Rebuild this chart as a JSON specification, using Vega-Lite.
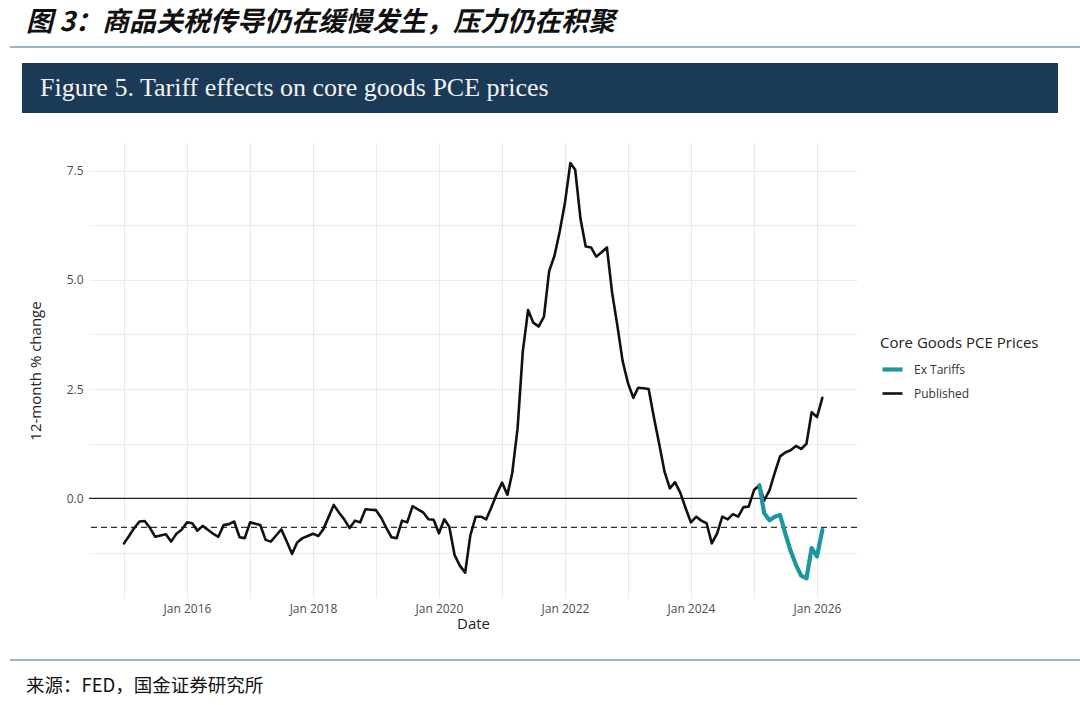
{
  "$schema": "https://vega.github.io/schema/vega-lite/v6.json",
  "background": "white",
  "padding": {"left": 10, "top": 9, "right": 0, "bottom": 0},
  "config": {
    "view": {"stroke": null},
    "font": "Open Sans"
  },
  "resolve": {"legend": {"color": "independent", "strokeWidth": "independent"}},
  "spacing": 30,
  "vconcat": [
    {
      "spacing": 15,
      "vconcat": [
        {
          "width": 1070,
          "height": 2,
          "view": {"fill": "#9db2c3", "stroke": null},
          "title": {"text": "图 3：商品关税传导仍在缓慢发生，压力仍在积聚", "anchor": "start", "font": "Noto Sans CJK SC", "fontSize": 27, "fontWeight": "bold", "fontStyle": "italic", "color": "#111111", "offset": 9, "dx": 16},
          "data": {"values": [{}]},
          "mark": {"type": "point", "opacity": 0, "size": 0},
          "encoding": {}
        },
        {
          "spacing": 11,
          "hconcat": [
            {
              "width": 1,
              "height": 1,
              "data": {"values": [{}]},
              "mark": {"type": "point", "opacity": 0, "size": 0},
              "encoding": {}
            },
            {
              "width": 1036,
              "height": 50,
              "view": {"fill": "#1b3a57", "stroke": null},
              "title": {"text": "Figure 5. Tariff effects on core goods PCE prices", "anchor": "start", "font": "Liberation Serif", "fontSize": 26, "fontWeight": "normal", "color": "#f2f2f2", "offset": -38, "dx": 18},
              "data": {"values": [{}]},
              "mark": {"type": "point", "opacity": 0, "size": 0},
              "encoding": {}
            }
          ]
        }
      ]
    },
    {
      "spacing": 28,
      "resolve": {"legend": {"color": "independent", "strokeWidth": "independent"}},
      "vconcat": [
        {
          "spacing": 17,
          "resolve": {"legend": {"color": "independent", "strokeWidth": "independent"}},
          "hconcat": [
            {
              "width": 1,
              "height": 1,
              "data": {"values": [{}]},
              "mark": {"type": "point", "opacity": 0, "size": 0},
              "encoding": {}
            },
            {
              "width": 768,
              "height": 455,
              "encoding": {
                "y": {
                  "field": "value",
                  "type": "quantitative",
                  "scale": {"domain": [-2.28, 8.13], "nice": false, "zero": false},
                  "axis": {
                    "title": "12-month % change",
                    "titleFontSize": 15,
                    "titleColor": "#222222",
                    "titleFontWeight": "normal",
                    "titlePadding": 23,
                    "values": [-1.25, 0, 1.25, 2.5, 3.75, 5, 6.25, 7.5],
                    "format": ".1f",
                    "labelExpr": "datum.value % 2.5 == 0 ? datum.label : ''",
                    "labelFontSize": 12,
                    "labelColor": "#4d4d4d",
                    "labelPadding": 6,
                    "ticks": false,
                    "domain": false,
                    "grid": true,
                    "gridColor": "#ebebeb",
                    "gridWidth": 1.1
                  }
                }
              },
              "layer": [
                {
                  "data": {"values": [{"value": 0}]},
                  "mark": {"type": "rule", "color": "#222222", "strokeWidth": 1.4}
                },
                {
                  "data": {"values": [{"value": -0.665}]},
                  "mark": {"type": "rule", "color": "#333333", "strokeWidth": 1.4, "strokeDash": [6, 4]}
                },
                {
                  "data": {"values": [
                    {"date": "2015-01-01", "value": -1.03, "series": "Published"},
                    {"date": "2015-02-01", "value": -0.85, "series": "Published"},
                    {"date": "2015-03-01", "value": -0.68, "series": "Published"},
                    {"date": "2015-04-01", "value": -0.53, "series": "Published"},
                    {"date": "2015-05-01", "value": -0.52, "series": "Published"},
                    {"date": "2015-06-01", "value": -0.68, "series": "Published"},
                    {"date": "2015-07-01", "value": -0.88, "series": "Published"},
                    {"date": "2015-08-01", "value": -0.85, "series": "Published"},
                    {"date": "2015-09-01", "value": -0.82, "series": "Published"},
                    {"date": "2015-10-01", "value": -0.99, "series": "Published"},
                    {"date": "2015-11-01", "value": -0.81, "series": "Published"},
                    {"date": "2015-12-01", "value": -0.72, "series": "Published"},
                    {"date": "2016-01-01", "value": -0.55, "series": "Published"},
                    {"date": "2016-02-01", "value": -0.57, "series": "Published"},
                    {"date": "2016-03-01", "value": -0.74, "series": "Published"},
                    {"date": "2016-04-01", "value": -0.63, "series": "Published"},
                    {"date": "2016-05-01", "value": -0.72, "series": "Published"},
                    {"date": "2016-06-01", "value": -0.81, "series": "Published"},
                    {"date": "2016-07-01", "value": -0.88, "series": "Published"},
                    {"date": "2016-08-01", "value": -0.61, "series": "Published"},
                    {"date": "2016-09-01", "value": -0.59, "series": "Published"},
                    {"date": "2016-10-01", "value": -0.53, "series": "Published"},
                    {"date": "2016-11-01", "value": -0.89, "series": "Published"},
                    {"date": "2016-12-01", "value": -0.91, "series": "Published"},
                    {"date": "2017-01-01", "value": -0.55, "series": "Published"},
                    {"date": "2017-02-01", "value": -0.58, "series": "Published"},
                    {"date": "2017-03-01", "value": -0.61, "series": "Published"},
                    {"date": "2017-04-01", "value": -0.95, "series": "Published"},
                    {"date": "2017-05-01", "value": -0.99, "series": "Published"},
                    {"date": "2017-06-01", "value": -0.85, "series": "Published"},
                    {"date": "2017-07-01", "value": -0.71, "series": "Published"},
                    {"date": "2017-08-01", "value": -0.98, "series": "Published"},
                    {"date": "2017-09-01", "value": -1.27, "series": "Published"},
                    {"date": "2017-10-01", "value": -1.01, "series": "Published"},
                    {"date": "2017-11-01", "value": -0.91, "series": "Published"},
                    {"date": "2017-12-01", "value": -0.86, "series": "Published"},
                    {"date": "2018-01-01", "value": -0.81, "series": "Published"},
                    {"date": "2018-02-01", "value": -0.86, "series": "Published"},
                    {"date": "2018-03-01", "value": -0.71, "series": "Published"},
                    {"date": "2018-04-01", "value": -0.43, "series": "Published"},
                    {"date": "2018-05-01", "value": -0.15, "series": "Published"},
                    {"date": "2018-06-01", "value": -0.33, "series": "Published"},
                    {"date": "2018-07-01", "value": -0.48, "series": "Published"},
                    {"date": "2018-08-01", "value": -0.68, "series": "Published"},
                    {"date": "2018-09-01", "value": -0.51, "series": "Published"},
                    {"date": "2018-10-01", "value": -0.55, "series": "Published"},
                    {"date": "2018-11-01", "value": -0.25, "series": "Published"},
                    {"date": "2018-12-01", "value": -0.26, "series": "Published"},
                    {"date": "2019-01-01", "value": -0.27, "series": "Published"},
                    {"date": "2019-02-01", "value": -0.45, "series": "Published"},
                    {"date": "2019-03-01", "value": -0.67, "series": "Published"},
                    {"date": "2019-04-01", "value": -0.89, "series": "Published"},
                    {"date": "2019-05-01", "value": -0.91, "series": "Published"},
                    {"date": "2019-06-01", "value": -0.51, "series": "Published"},
                    {"date": "2019-07-01", "value": -0.55, "series": "Published"},
                    {"date": "2019-08-01", "value": -0.18, "series": "Published"},
                    {"date": "2019-09-01", "value": -0.25, "series": "Published"},
                    {"date": "2019-10-01", "value": -0.32, "series": "Published"},
                    {"date": "2019-11-01", "value": -0.48, "series": "Published"},
                    {"date": "2019-12-01", "value": -0.49, "series": "Published"},
                    {"date": "2020-01-01", "value": -0.80, "series": "Published"},
                    {"date": "2020-02-01", "value": -0.48, "series": "Published"},
                    {"date": "2020-03-01", "value": -0.65, "series": "Published"},
                    {"date": "2020-04-01", "value": -1.30, "series": "Published"},
                    {"date": "2020-05-01", "value": -1.54, "series": "Published"},
                    {"date": "2020-06-01", "value": -1.70, "series": "Published"},
                    {"date": "2020-07-01", "value": -0.85, "series": "Published"},
                    {"date": "2020-08-01", "value": -0.42, "series": "Published"},
                    {"date": "2020-09-01", "value": -0.42, "series": "Published"},
                    {"date": "2020-10-01", "value": -0.48, "series": "Published"},
                    {"date": "2020-11-01", "value": -0.20, "series": "Published"},
                    {"date": "2020-12-01", "value": 0.10, "series": "Published"},
                    {"date": "2021-01-01", "value": 0.36, "series": "Published"},
                    {"date": "2021-02-01", "value": 0.08, "series": "Published"},
                    {"date": "2021-03-01", "value": 0.58, "series": "Published"},
                    {"date": "2021-04-01", "value": 1.60, "series": "Published"},
                    {"date": "2021-05-01", "value": 3.35, "series": "Published"},
                    {"date": "2021-06-01", "value": 4.31, "series": "Published"},
                    {"date": "2021-07-01", "value": 4.02, "series": "Published"},
                    {"date": "2021-08-01", "value": 3.93, "series": "Published"},
                    {"date": "2021-09-01", "value": 4.16, "series": "Published"},
                    {"date": "2021-10-01", "value": 5.20, "series": "Published"},
                    {"date": "2021-11-01", "value": 5.55, "series": "Published"},
                    {"date": "2021-12-01", "value": 6.10, "series": "Published"},
                    {"date": "2022-01-01", "value": 6.77, "series": "Published"},
                    {"date": "2022-02-01", "value": 7.67, "series": "Published"},
                    {"date": "2022-03-01", "value": 7.52, "series": "Published"},
                    {"date": "2022-04-01", "value": 6.39, "series": "Published"},
                    {"date": "2022-05-01", "value": 5.76, "series": "Published"},
                    {"date": "2022-06-01", "value": 5.74, "series": "Published"},
                    {"date": "2022-07-01", "value": 5.53, "series": "Published"},
                    {"date": "2022-08-01", "value": 5.63, "series": "Published"},
                    {"date": "2022-09-01", "value": 5.74, "series": "Published"},
                    {"date": "2022-10-01", "value": 4.71, "series": "Published"},
                    {"date": "2022-11-01", "value": 3.94, "series": "Published"},
                    {"date": "2022-12-01", "value": 3.14, "series": "Published"},
                    {"date": "2023-01-01", "value": 2.64, "series": "Published"},
                    {"date": "2023-02-01", "value": 2.30, "series": "Published"},
                    {"date": "2023-03-01", "value": 2.53, "series": "Published"},
                    {"date": "2023-04-01", "value": 2.52, "series": "Published"},
                    {"date": "2023-05-01", "value": 2.50, "series": "Published"},
                    {"date": "2023-06-01", "value": 1.84, "series": "Published"},
                    {"date": "2023-07-01", "value": 1.25, "series": "Published"},
                    {"date": "2023-08-01", "value": 0.61, "series": "Published"},
                    {"date": "2023-09-01", "value": 0.23, "series": "Published"},
                    {"date": "2023-10-01", "value": 0.37, "series": "Published"},
                    {"date": "2023-11-01", "value": 0.12, "series": "Published"},
                    {"date": "2023-12-01", "value": -0.22, "series": "Published"},
                    {"date": "2024-01-01", "value": -0.55, "series": "Published"},
                    {"date": "2024-02-01", "value": -0.42, "series": "Published"},
                    {"date": "2024-03-01", "value": -0.51, "series": "Published"},
                    {"date": "2024-04-01", "value": -0.57, "series": "Published"},
                    {"date": "2024-05-01", "value": -1.03, "series": "Published"},
                    {"date": "2024-06-01", "value": -0.80, "series": "Published"},
                    {"date": "2024-07-01", "value": -0.42, "series": "Published"},
                    {"date": "2024-08-01", "value": -0.48, "series": "Published"},
                    {"date": "2024-09-01", "value": -0.36, "series": "Published"},
                    {"date": "2024-10-01", "value": -0.42, "series": "Published"},
                    {"date": "2024-11-01", "value": -0.20, "series": "Published"},
                    {"date": "2024-12-01", "value": -0.19, "series": "Published"},
                    {"date": "2025-01-01", "value": 0.19, "series": "Published"},
                    {"date": "2025-02-01", "value": 0.30, "series": "Published"},
                    {"date": "2025-03-01", "value": -0.05, "series": "Published"},
                    {"date": "2025-04-01", "value": 0.19, "series": "Published"},
                    {"date": "2025-05-01", "value": 0.58, "series": "Published"},
                    {"date": "2025-06-01", "value": 0.96, "series": "Published"},
                    {"date": "2025-07-01", "value": 1.05, "series": "Published"},
                    {"date": "2025-08-01", "value": 1.10, "series": "Published"},
                    {"date": "2025-09-01", "value": 1.20, "series": "Published"},
                    {"date": "2025-10-01", "value": 1.13, "series": "Published"},
                    {"date": "2025-11-01", "value": 1.25, "series": "Published"},
                    {"date": "2025-12-01", "value": 1.97, "series": "Published"},
                    {"date": "2026-01-01", "value": 1.86, "series": "Published"},
                    {"date": "2026-02-01", "value": 2.30, "series": "Published"},
                    {"date": "2025-02-01", "value": 0.30, "series": "Ex Tariffs"},
                    {"date": "2025-03-01", "value": -0.34, "series": "Ex Tariffs"},
                    {"date": "2025-04-01", "value": -0.50, "series": "Ex Tariffs"},
                    {"date": "2025-05-01", "value": -0.42, "series": "Ex Tariffs"},
                    {"date": "2025-06-01", "value": -0.38, "series": "Ex Tariffs"},
                    {"date": "2025-07-01", "value": -0.80, "series": "Ex Tariffs"},
                    {"date": "2025-08-01", "value": -1.20, "series": "Ex Tariffs"},
                    {"date": "2025-09-01", "value": -1.52, "series": "Ex Tariffs"},
                    {"date": "2025-10-01", "value": -1.77, "series": "Ex Tariffs"},
                    {"date": "2025-11-01", "value": -1.83, "series": "Ex Tariffs"},
                    {"date": "2025-12-01", "value": -1.14, "series": "Ex Tariffs"},
                    {"date": "2026-01-01", "value": -1.33, "series": "Ex Tariffs"},
                    {"date": "2026-02-01", "value": -0.72, "series": "Ex Tariffs"}
                  ]},
                  "mark": {"type": "line", "strokeJoin": "round", "strokeCap": "round"},
                  "encoding": {
                    "x": {
                      "field": "date",
                      "type": "temporal",
                      "scale": {"type": "utc", "domain": [{"year": 2014, "month": 6, "date": 12, "utc": true}, {"year": 2026, "month": 8, "date": 21, "utc": true}], "nice": false},
                      "axis": {
                        "title": "Date",
                        "titleFontSize": 15,
                        "titleColor": "#222222",
                        "titleFontWeight": "normal",
                        "titlePadding": 2,
                        "values": [
                          {"year": 2015, "month": 1, "date": 1, "utc": true},
                          {"year": 2016, "month": 1, "date": 1, "utc": true},
                          {"year": 2017, "month": 1, "date": 1, "utc": true},
                          {"year": 2018, "month": 1, "date": 1, "utc": true},
                          {"year": 2019, "month": 1, "date": 1, "utc": true},
                          {"year": 2020, "month": 1, "date": 1, "utc": true},
                          {"year": 2021, "month": 1, "date": 1, "utc": true},
                          {"year": 2022, "month": 1, "date": 1, "utc": true},
                          {"year": 2023, "month": 1, "date": 1, "utc": true},
                          {"year": 2024, "month": 1, "date": 1, "utc": true},
                          {"year": 2025, "month": 1, "date": 1, "utc": true},
                          {"year": 2026, "month": 1, "date": 1, "utc": true}
                        ],
                        "format": "%b %Y",
                        "labelExpr": "utcyear(datum.value) % 2 == 0 ? datum.label : ''",
                        "labelFontSize": 12,
                        "labelColor": "#4d4d4d",
                        "labelPadding": 5,
                        "labelFlush": false,
                        "labelOverlap": false,
                        "ticks": false,
                        "domain": false,
                        "grid": true,
                        "gridColor": "#ebebeb",
                        "gridWidth": 1.1
                      }
                    },
                    "color": {
                      "field": "series",
                      "type": "nominal",
                      "scale": {"domain": ["Ex Tariffs", "Published"], "range": ["#1a979f", "#111111"]},
                      "legend": {
                        "title": "Core Goods PCE Prices",
                        "orient": "none",
                        "legendX": 791,
                        "legendY": 193,
                        "titleFontSize": 15,
                        "titleFontWeight": "normal",
                        "titleColor": "#222222",
                        "titlePadding": 6,
                        "labelFontSize": 12,
                        "labelColor": "#333333",
                        "labelOffset": 9,
                        "symbolType": "stroke",
                        "symbolSize": 400,
                        "rowPadding": 4
                      }
                    },
                    "strokeWidth": {
                      "field": "series",
                      "type": "nominal",
                      "scale": {"domain": ["Ex Tariffs", "Published"], "range": [4.2, 2.6]},
                      "legend": {
                        "title": "Core Goods PCE Prices",
                        "orient": "none",
                        "legendX": 791,
                        "legendY": 193,
                        "titleFontSize": 15,
                        "titleFontWeight": "normal",
                        "titleColor": "#222222",
                        "titlePadding": 6,
                        "labelFontSize": 12,
                        "labelColor": "#333333",
                        "labelOffset": 9,
                        "symbolType": "stroke",
                        "symbolSize": 400,
                        "rowPadding": 4
                      }
                    }
                  }
                }
              ]
            }
          ]
        },
        {
          "width": 1070,
          "height": 2,
          "view": {"fill": "#9db2c3", "stroke": null},
          "title": {"text": "来源：FED，国金证券研究所", "orient": "bottom", "anchor": "start", "font": "Noto Sans CJK SC", "fontSize": 18.5, "fontWeight": "normal", "color": "#111111", "offset": 16, "dx": 16},
          "data": {"values": [{}]},
          "mark": {"type": "point", "opacity": 0, "size": 0},
          "encoding": {}
        }
      ]
    }
  ]
}
